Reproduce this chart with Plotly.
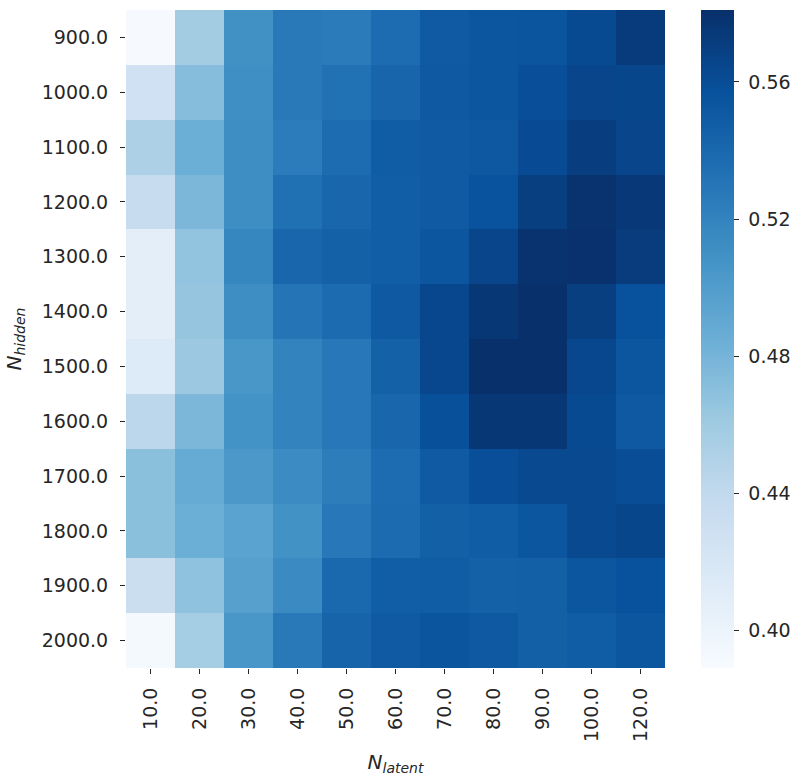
import plotly.graph_objects as go

# Grid axes
n_latent = ["10.0", "20.0", "30.0", "40.0", "50.0", "60.0", "70.0", "80.0", "90.0", "100.0", "120.0"]
n_hidden = ["900.0", "1000.0", "1100.0", "1200.0", "1300.0", "1400.0",
            "1500.0", "1600.0", "1700.0", "1800.0", "1900.0", "2000.0"]

# Score for each (N_hidden, N_latent) pair, one list per N_hidden row
row_900 = [0.390, 0.458, 0.510, 0.527, 0.526, 0.537, 0.550, 0.553, 0.554, 0.562, 0.573]
row_1000 = [0.428, 0.472, 0.511, 0.527, 0.533, 0.542, 0.551, 0.553, 0.559, 0.566, 0.565]
row_1100 = [0.452, 0.485, 0.512, 0.525, 0.537, 0.548, 0.550, 0.552, 0.561, 0.571, 0.566]
row_1200 = [0.435, 0.477, 0.512, 0.534, 0.541, 0.547, 0.550, 0.556, 0.570, 0.579, 0.575]
row_1300 = [0.408, 0.466, 0.518, 0.541, 0.545, 0.547, 0.553, 0.566, 0.579, 0.580, 0.572]
row_1400 = [0.408, 0.465, 0.512, 0.531, 0.538, 0.551, 0.564, 0.576, 0.581, 0.570, 0.557]
row_1500 = [0.414, 0.462, 0.505, 0.520, 0.528, 0.545, 0.564, 0.582, 0.581, 0.564, 0.553]
row_1600 = [0.443, 0.477, 0.508, 0.520, 0.528, 0.541, 0.558, 0.576, 0.576, 0.562, 0.551]
row_1700 = [0.470, 0.488, 0.504, 0.513, 0.524, 0.537, 0.550, 0.559, 0.563, 0.563, 0.560]
row_1800 = [0.470, 0.485, 0.495, 0.509, 0.528, 0.538, 0.546, 0.548, 0.553, 0.563, 0.565]
row_1900 = [0.433, 0.468, 0.497, 0.514, 0.540, 0.547, 0.548, 0.545, 0.546, 0.553, 0.557]
row_2000 = [0.392, 0.457, 0.505, 0.527, 0.543, 0.550, 0.554, 0.551, 0.546, 0.548, 0.553]

scores = [row_900, row_1000, row_1100, row_1200, row_1300, row_1400,
          row_1500, row_1600, row_1700, row_1800, row_1900, row_2000]

colorbar_ticks = [0.40, 0.44, 0.48, 0.52, 0.56]

# ColorBrewer "Blues" (9 classes)
blues = ["rgb(247,251,255)", "rgb(222,235,247)", "rgb(198,219,239)", "rgb(158,202,225)",
         "rgb(107,174,214)", "rgb(66,146,198)", "rgb(33,113,181)", "rgb(8,81,156)",
         "rgb(8,48,107)"]
colorscale = [[i / (len(blues) - 1), c] for i, c in enumerate(blues)]

text_color = "#262626"
font_family = "DejaVu Sans"

fig = go.Figure(
    go.Heatmap(
        z=scores,
        x=n_latent,
        y=n_hidden,
        colorscale=colorscale,
        zmin=0.389,
        zmax=0.581,
        xgap=0,
        ygap=0,
        colorbar=dict(
            x=1.067,
            xanchor="left",
            y=0.5,
            yanchor="middle",
            len=1.0,
            lenmode="fraction",
            thickness=33,
            thicknessmode="pixels",
            xpad=0,
            ypad=0,
            outlinewidth=0,
            tickvals=colorbar_ticks,
            ticktext=["\u00a0" + f"{v:.2f}" for v in colorbar_ticks],
            ticks="outside",
            ticklen=5,
            tickcolor=text_color,
            tickfont=dict(family=font_family, size=19, color=text_color),
        ),
    )
)

fig.update_layout(
    width=795,
    height=776,
    margin=dict(l=126, r=130, t=10, b=108, autoexpand=False),
    paper_bgcolor="white",
    plot_bgcolor="white",
    font=dict(family=font_family, size=19, color=text_color),
    xaxis=dict(
        type="category",
        tickangle=-90,
        ticks="outside",
        ticklen=5,
        tickcolor=text_color,
        ticklabelstandoff=6,
        showgrid=False,
        zeroline=False,
        showline=False,
        automargin=False,
        title=dict(text="<i>N</i><sub><i>latent</i></sub>", font=dict(size=20), standoff=14),
    ),
    yaxis=dict(
        type="category",
        autorange="reversed",
        ticks="outside",
        ticklen=5,
        tickcolor=text_color,
        ticklabelstandoff=8,
        showgrid=False,
        zeroline=False,
        showline=False,
        automargin=False,
        title=dict(text="<i>N</i><sub><i>hidden</i></sub>", font=dict(size=20), standoff=14),
    ),
)

fig.write_html("out.html")
